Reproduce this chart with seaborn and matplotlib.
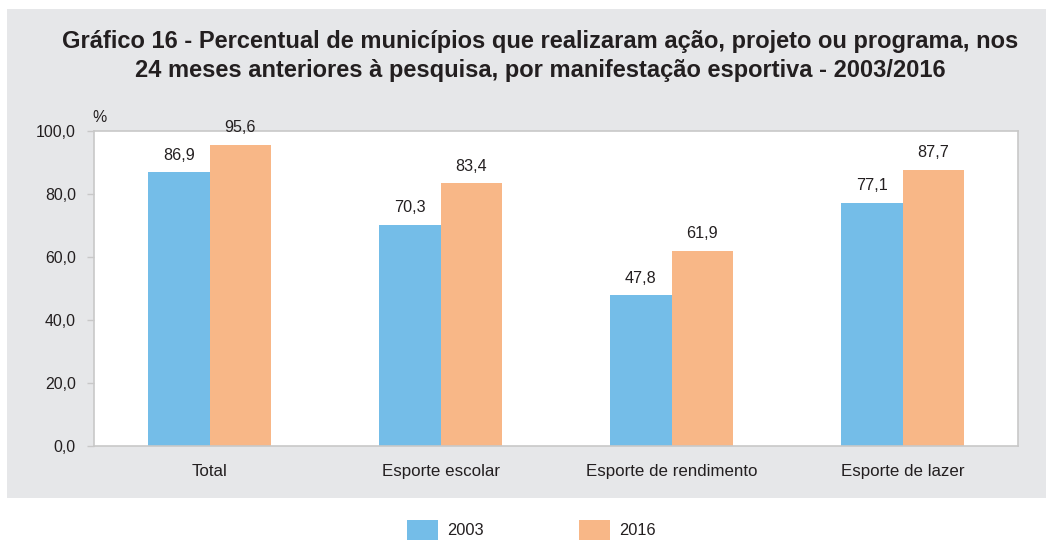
import matplotlib
matplotlib.use("Agg")
import matplotlib.pyplot as plt
import matplotlib.patches as mpatches
import seaborn as sns
import pandas as pd

categories = ["Total", "Esporte escolar", "Esporte de rendimento", "Esporte de lazer"]
values_2003 = [86.9, 70.3, 47.8, 77.1]
values_2016 = [95.6, 83.4, 61.9, 87.7]
series = ["2003", "2016"]
title = ("Gráfico 16 - Percentual de municípios que realizaram ação, projeto ou programa, nos\n"
         "24 meses anteriores à pesquisa, por manifestação esportiva - 2003/2016")

colors = {"2003": "#74bde8", "2016": "#f8b787"}
panel_gray = "#e6e7e9"
text_col = "#231f20"
spine_col = "#c8c8c8"

df = pd.DataFrame({
    "cat": categories * 2,
    "ano": [series[0]] * 4 + [series[1]] * 4,
    "val": values_2003 + values_2016,
})

sns.set_theme(style="white")
plt.rcParams["font.family"] = ["Liberation Sans", "DejaVu Sans"]

W, H = 1046, 542
fig = plt.figure(figsize=(W / 100, H / 100), dpi=100)
fig.patch.set_facecolor("white")
fig.add_artist(mpatches.Rectangle((7 / W, 1 - 498 / H), (W - 7) / W, (498 - 9) / H,
                                  transform=fig.transFigure, facecolor=panel_gray,
                                  edgecolor="none", zorder=0))

ax = fig.add_axes([94 / W, 1 - 446 / H, 924 / W, 315 / H])
ax.set_facecolor("white")
sns.barplot(data=df, x="cat", y="val", hue="ano", order=categories, hue_order=series,
            palette=colors, width=0.53, gap=0, saturation=1, ax=ax, legend=False,
            errorbar=None, linewidth=0, edgecolor="none")

for cont in ax.containers:
    ax.bar_label(cont, labels=[f"{v:.1f}".replace(".", ",") for v in cont.datavalues],
                 padding=7, fontsize=11.6, color=text_col)

ax.set_xlim(-0.5, 3.5)
ax.set_ylim(0, 100)
ax.set_yticks([0, 20, 40, 60, 80, 100])
ax.set_yticklabels([f"{v:.1f}".replace(".", ",") for v in [0, 20, 40, 60, 80, 100]],
                   fontsize=11.4, color=text_col)
ax.tick_params(axis="y", which="both", left=True, length=5, width=1, color=spine_col, pad=8)
ax.tick_params(axis="x", length=0, pad=13, labelsize=12.2, labelcolor=text_col)
ax.set_xlabel("")
ax.set_ylabel("")
for s in ax.spines.values():
    s.set_visible(True)
    s.set_color(spine_col)
    s.set_linewidth(1.2)

fig.text(92 / W, 1 - 117 / H, "%", fontsize=11.4, color=text_col, ha="left", va="center")

fig.text(540 / W, 1 - 56 / H, title, fontsize=17, fontweight="bold", color=text_col,
         ha="center", va="center", linespacing=1.3)

handles = [mpatches.Patch(facecolor=colors[s], edgecolor="none", label=s) for s in series]
fig.legend(handles=handles, loc="center", bbox_to_anchor=(531 / W, 1 - 530 / H), ncol=2,
           frameon=False, fontsize=11.8, handlelength=1.9, handleheight=1.5,
           handletextpad=0.55, columnspacing=5.8, labelcolor=text_col)

fig.savefig("out.png", dpi=100)
